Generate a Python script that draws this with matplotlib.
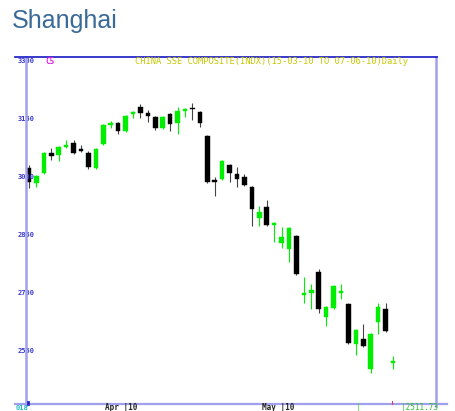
import matplotlib
matplotlib.use('Agg')
import matplotlib.pyplot as plt
from matplotlib.lines import Line2D
import matplotlib.transforms as mtransforms

# daily candles, SSE composite 15-03-10 to 07-06-10
opens = [3023, 2985, 3010, 3062, 3057, 3078, 3088, 3072, 3062, 3023,
         3085, 3134, 3140, 3119, 3163, 3181, 3166, 3155, 3127, 3163,
         3140, 3171, 3178, 3168, 3106, 2990, 2995, 3031, 3008, 3000,
         2974, 2894, 2922, 2876, 2829, 2814, 2847, 2696, 2700, 2754,
         2638, 2661, 2701, 2672, 2568, 2581, 2504, 2625, 2659, 2520]
highs = [3031, 3005, 3064, 3075, 3080, 3096, 3096, 3083, 3066, 3075,
         3137, 3145, 3142, 3160, 3171, 3189, 3173, 3158, 3158, 3166,
         3181, 3178, 3191, 3171, 3109, 3000, 3044, 3034, 3026, 3008,
         2977, 2925, 2940, 2884, 2871, 2870, 2850, 2741, 2723, 2762,
         2666, 2721, 2723, 2674, 2607, 2620, 2597, 2674, 2674, 2537]
lows = [2972, 2974, 3008, 3044, 3041, 3075, 3060, 3065, 3021, 3021,
        3083, 3127, 3111, 3117, 3153, 3153, 3142, 3122, 3124, 3119,
        3111, 3155, 3147, 3129, 2985, 2951, 2992, 2987, 2974, 2977,
        2873, 2873, 2873, 2832, 2816, 2780, 2747, 2674, 2659, 2648,
        2615, 2658, 2684, 2568, 2540, 2560, 2493, 2594, 2600, 2503]
closes = [2987, 3003, 3062, 3054, 3078, 3083, 3062, 3068, 3026, 3072,
          3134, 3140, 3119, 3158, 3166, 3166, 3158, 3127, 3155, 3137,
          3171, 3174, 3175, 3140, 2987, 2987, 3041, 3010, 2995, 2979,
          2917, 2910, 2876, 2881, 2845, 2868, 2749, 2698, 2708, 2659,
          2664, 2718, 2704, 2571, 2604, 2563, 2594, 2664, 2602, 2522]

y_ticks = [3300, 3150, 3000, 2850, 2700, 2550]
last_price = '2511.73'

fig = plt.figure(figsize=(4.56, 4.11), dpi=100)
fig.patch.set_facecolor('white')

# page title
fig.text(12 / 456, 1 - 21 / 411, 'Shanghai', fontsize=18, color='#3a6a98',
         family='Liberation Sans', va='center', ha='left')

ax = fig.add_axes([26 / 456, 1 - 404 / 411, 410 / 456, 347 / 411])
ax.set_xlim(-0.4, 54.78)
ax.set_ylim(2413, 3310)
for s in ax.spines.values():
    s.set_visible(False)
ax.set_xticks([])
ax.set_yticks([])

green = '#00ee00'
# draw the candles: wick first then body
for i in range(len(opens)):
    o, h, l, c = opens[i], highs[i], lows[i], closes[i]
    up = c >= o
    col = green if up else 'black'
    wick_col = green if up else '#444444'
    ax.vlines(i, l, h, color=wick_col, linewidth=0.8, zorder=2)
    bottom = min(o, c)
    height = max(abs(c - o), 4)
    ax.bar(i, height, bottom=bottom, width=0.62, color=col, edgecolor=col,
           linewidth=0.3, zorder=3)

# y labels sit on top of the left axis line
trans = mtransforms.blended_transform_factory(ax.transAxes, ax.transData)
for t in y_ticks:
    ax.text(0.0, t, str(t), transform=trans, ha='center', va='center',
            fontsize=5, fontweight='bold', color='#3a3ad0',
            family='DejaVu Sans Mono', zorder=5)

# frame lines like the original chart program
def fig_line(x0, y0, x1, y1, color, lw):
    fig.add_artist(Line2D([x0 / 456, x1 / 456], [1 - y0 / 411, 1 - y1 / 411],
                          color=color, linewidth=lw, transform=fig.transFigure))

lav = '#a0a0ee'
fig_line(26, 57, 26, 405, lav, 1.8)
fig_line(436, 57, 436, 406, lav, 1.8)
fig_line(15, 404, 447, 404, lav, 1.6)
fig_line(15, 57, 437, 57, '#2828c8', 1.3)
fig_line(28, 402, 28, 404, '#2828c8', 2.0)

# header texts
fig.text(45 / 456, 1 - 61 / 411, 'C5', fontsize=5.5, color='#e020e0',
         family='DejaVu Sans Mono', fontweight='bold', va='center')
fig.text(135 / 456, 1 - 61 / 411,
         'CHINA SSE COMPOSITE(INDX)(15-03-10 TO 07-06-10)Daily',
         fontsize=6.3, color='#c8c800', family='DejaVu Sans Mono',
         va='center', ha='left')

# bottom labels squeezed under the bottom line
by = 1 - 410 / 411
fig.text(16 / 456, by, '018', fontsize=5, color='#20c0c0',
         family='DejaVu Sans Mono', fontweight='bold', va='baseline')
fig.text(105 / 456, by, 'Apr |10', fontsize=5.5, color='#222222',
         family='DejaVu Sans Mono', fontweight='bold', va='baseline')
fig.text(262 / 456, by, 'May |10', fontsize=5.5, color='#222222',
         family='DejaVu Sans Mono', fontweight='bold', va='baseline')
fig.text(356 / 456, by, '|', fontsize=5.5, color='#30d030',
         family='DejaVu Sans Mono', va='baseline')
fig_line(392, 401, 392, 404, '#e04060', 0.8)
fig.text(401 / 456, by, '|' + last_price, fontsize=5.5, color='#30c030',
         family='DejaVu Sans Mono', va='baseline')

fig.savefig('out.png', dpi=100, facecolor='white')
